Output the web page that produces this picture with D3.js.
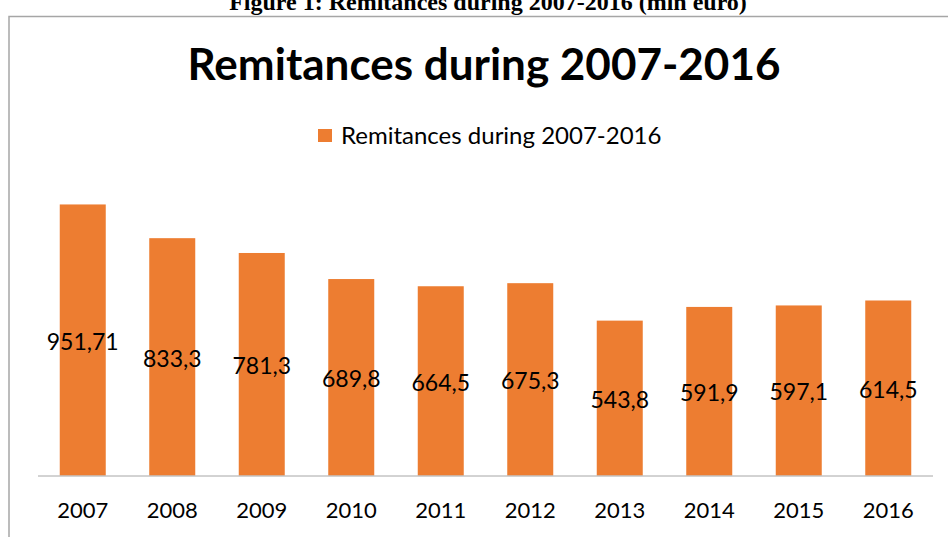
<!DOCTYPE html>
<html>
    <head>
        <meta charset="utf-8">
        <title></title>
        <script src="https://d3js.org/d3.v7.min.js"></script>
    </head>

    <body style="margin:0;background:#fff">
        <svg id="chart" width="948" height="537"></svg>
    </body>

    <script>

        // data
        var years = ["2007", "2008", "2009", "2010", "2011", "2012", "2013", "2014", "2015", "2016"]
        var remittances = [951.71, 833.3, 781.3, 689.8, 664.5, 675.3, 543.8, 591.9, 597.1, 614.5]
        var valueLabels = ["951,71", "833,3", "781,3", "689,8", "664,5", "675,3", "543,8", "591,9", "597,1", "614,5"]
        var seriesName = "Remitances during 2007-2016"
        var caption = "Figure 1: Remitances during 2007-2016 (mln euro)"

        var svg = d3.select("svg")
        var font = "Lato, 'Open Sans', sans-serif"
        var orange = "#ED7D31"

        // caption above the frame (cut off at top, as in the source)
        svg.append("text")
        .attr("x", 488)
        .attr("y", 10)
        .attr("text-anchor", "middle")
        .style("font-family", "'Liberation Serif', 'Times New Roman', serif")
        .style("font-weight", "bold")
        .style("font-size", "24px")
        .text(caption)

        // chart frame
        svg.append("rect")
        .attr("x", 9)
        .attr("y", 16.5)
        .attr("width", 960)
        .attr("height", 540)
        .style("fill", "none")
        .style("stroke", "#a6a6a6")
        .style("stroke-width", 1.5)

        // title
        svg.append("text")
        .attr("x", 484)
        .attr("y", 80)
        .attr("text-anchor", "middle")
        .style("font-family", font)
        .style("font-weight", "bold")
        .style("font-size", "44px")
        .style("fill", "#000")
        .text(seriesName)

        // legend
        svg.append("rect")
        .attr("x", 318)
        .attr("y", 129)
        .attr("width", 14)
        .attr("height", 13)
        .style("fill", orange)

        svg.append("text")
        .attr("x", 341)
        .attr("y", 144)
        .style("font-family", font)
        .style("font-size", "24px")
        .style("fill", "#000")
        .text(seriesName)

        // scales
        var x = d3.scaleBand()
        .domain(years)
        .range([38, 933])
        .paddingInner(0.486)
        .paddingOuter(0.243)

        var y = d3.scaleLinear()
        .domain([0, 1000])
        .range([475.5, 190.7])

        // bars
        svg.selectAll("rect.bar")
        .data(remittances)
        .enter()
        .append("rect")
        .attr("class", "bar")
        .attr("x", function(d, i){ return x(years[i]) })
        .attr("y", function(d){ return y(d) })
        .attr("width", x.bandwidth())
        .attr("height", function(d){ return y(0) - y(d) })
        .style("fill", orange)

        // baseline
        svg.append("line")
        .attr("x1", 38)
        .attr("x2", 933)
        .attr("y1", y(0) + 0.5)
        .attr("y2", y(0) + 0.5)
        .style("stroke", "#a6a6a6")
        .style("stroke-width", 1)

        // x axis labels
        var xAxis = d3.axisBottom(x).tickSize(0).tickPadding(0)
        var gx = svg.append("g")
        .attr("transform", "translate(0," + y(0) + ")")
        .call(xAxis)
        gx.select(".domain").remove()
        gx.selectAll("text")
        .attr("y", 42)
        .attr("dy", 0)
        .style("font-family", font)
        .style("font-size", "22px")
        .style("fill", "#000")

        // value labels, centred in each bar
        svg.selectAll("text.val")
        .data(remittances)
        .enter()
        .append("text")
        .attr("class", "val")
        .attr("x", function(d, i){ return x(years[i]) + x.bandwidth() / 2 })
        .attr("y", function(d){ return (y(d) + y(0)) / 2 + 10 })
        .attr("text-anchor", "middle")
        .style("font-family", font)
        .style("font-size", "23px")
        .style("fill", "#000")
        .text(function(d, i){ return valueLabels[i] })

    </script>
</html>
